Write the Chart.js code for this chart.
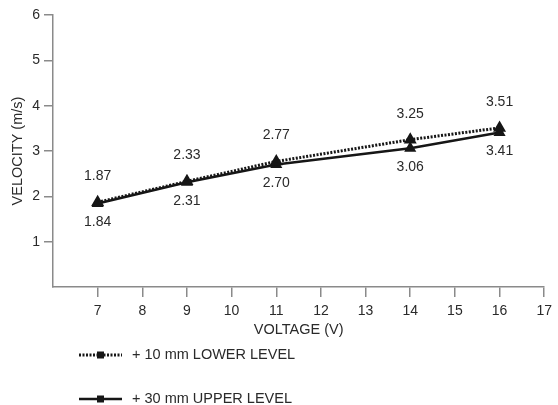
<!DOCTYPE html>
<html>
<head>
<meta charset="utf-8">
<script src="https://cdn.jsdelivr.net/npm/chart.js@4"></script>
<style>
  html, body { margin: 0; padding: 0; background: #ffffff; }
  #box { width: 558px; height: 405px; }
</style>
</head>
<body>
<div id="box"><canvas id="grafico"></canvas></div>
<script>
const voltagens = [7, 9, 11, 14, 16];
const nivelInferior = [1.87, 2.33, 2.77, 3.25, 3.51];
const nivelSuperior = [1.84, 2.31, 2.70, 3.06, 3.41];
const nomesSeries = ['+ 10 mm LOWER LEVEL', '+ 30 mm UPPER LEVEL'];

const cores = {
    linha: '#161616',
    eixo: '#8a8a8a',
    texto: '#2a2a2a'
};
const fonte = "'Liberation Sans', Arial, sans-serif";

// rótulos de valor: série de baixo acima, série de cima abaixo
const rotulos = {
    id: 'rotulos',
    afterDatasetsDraw(chart) {
        const ctx = chart.ctx;
        ctx.save();
        ctx.font = '14px ' + fonte;
        ctx.fillStyle = cores.texto;
        ctx.textAlign = 'center';
        ctx.textBaseline = 'middle';
        chart.data.datasets.forEach((ds, i) => {
            const meta = chart.getDatasetMeta(i);
            meta.data.forEach((p, j) => {
                const desloc = i === 0 ? -26 : 19;
                ctx.fillText(ds.data[j].y.toFixed(2), p.x, p.y + desloc);
            });
        });
        ctx.restore();
    }
};

// legenda desenhada embaixo, à esquerda
const legenda = {
    id: 'legenda',
    afterDraw(chart) {
        const ctx = chart.ctx;
        ctx.save();
        const linhas = [355, 399];
        nomesSeries.forEach((nome, i) => {
            const y = linhas[i];
            ctx.strokeStyle = cores.linha;
            ctx.lineWidth = i === 0 ? 3 : 2.5;
            ctx.setLineDash(i === 0 ? [2, 1.5] : []);
            ctx.beginPath();
            ctx.moveTo(79, y);
            ctx.lineTo(122, y);
            ctx.stroke();
            ctx.setLineDash([]);
            ctx.fillStyle = cores.linha;
            ctx.fillRect(97, y - 3.5, 7, 7);
            ctx.font = '14.5px ' + fonte;
            ctx.fillStyle = cores.texto;
            ctx.textAlign = 'left';
            ctx.textBaseline = 'middle';
            ctx.fillText(nome, 132, y);
        });
        ctx.restore();
    }
};

const ctxGrafico = document.getElementById('grafico');
new Chart(ctxGrafico, {
    type: 'line',
    data: {
        datasets: [{
            label: nomesSeries[0],
            data: voltagens.map((v, i) => ({ x: v, y: nivelInferior[i] })),
            borderColor: cores.linha,
            backgroundColor: cores.linha,
            borderWidth: 3,
            borderDash: [2, 1.5],
            pointStyle: 'triangle',
            pointRadius: 4.5,
            tension: 0
        }, {
            label: nomesSeries[1],
            data: voltagens.map((v, i) => ({ x: v, y: nivelSuperior[i] })),
            borderColor: cores.linha,
            backgroundColor: cores.linha,
            borderWidth: 2.5,
            pointStyle: 'triangle',
            pointRadius: 4.5,
            tension: 0
        }]
    },
    options: {
        responsive: true,
        maintainAspectRatio: false,
        animation: false,
        layout: {
            padding: { top: 15, right: 9, bottom: 66, left: 0 }
        },
        plugins: {
            legend: { display: false },
            tooltip: { enabled: false }
        },
        scales: {
            x: {
                type: 'linear',
                min: 6,
                max: 17,
                afterFit: (s) => { s.height = 52; },
                border: { color: cores.eixo, width: 1.5 },
                grid: {
                    drawOnChartArea: false,
                    tickLength: 10,
                    lineWidth: 1.5,
                    color: (c) => c.tick && c.tick.value === 6 ? 'rgba(0,0,0,0)' : cores.eixo
                },
                ticks: {
                    stepSize: 1,
                    padding: 6,
                    color: cores.texto,
                    font: { family: fonte, size: 14 },
                    callback: (v) => v === 6 ? '' : v
                },
                title: {
                    display: true,
                    text: 'VOLTAGE (V)',
                    color: cores.texto,
                    font: { family: fonte, size: 14.5 },
                    padding: { top: 0, bottom: 0 }
                }
            },
            y: {
                min: 0,
                max: 6,
                afterFit: (s) => { s.width = 53; },
                border: { color: cores.eixo, width: 1.5 },
                grid: {
                    drawOnChartArea: false,
                    tickLength: 9,
                    lineWidth: 1.5,
                    color: (c) => c.tick && c.tick.value === 0 ? 'rgba(0,0,0,0)' : cores.eixo
                },
                ticks: {
                    stepSize: 1,
                    padding: 4,
                    color: cores.texto,
                    font: { family: fonte, size: 14 },
                    callback: (v) => v === 0 ? '' : v
                },
                title: {
                    display: true,
                    text: 'VELOCITY (m/s)',
                    color: cores.texto,
                    font: { family: fonte, size: 14.5 },
                    padding: { top: 9, bottom: 0 }
                }
            }
        }
    },
    plugins: [rotulos, legenda]
});
</script>
</body>
</html>
